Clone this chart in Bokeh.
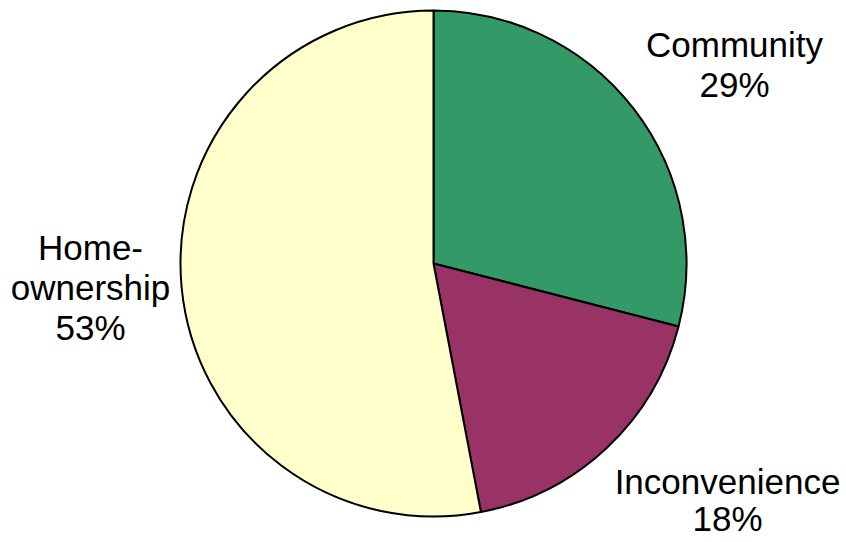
import math
from bokeh.plotting import figure
from bokeh.models import Range1d, ColumnDataSource
from bokeh.core.properties import value
from bokeh.embed import file_html
from bokeh.resources import INLINE

# ---- data ----
categories = ["Community", "Inconvenience", "Home-ownership"]
label_lines = [["Community", "29%"], ["Inconvenience", "18%"], ["Home-", "ownership", "53%"]]
percents = [29, 18, 53]
colors = ["#339966", "#993366", "#FFFFCC"]

# ---- layout ----
W, H = 846, 542
cx, cy, r = 433, H - 263, 253
shift = 13
label_pos = [(734, H - 57 + shift), (727, H - 494 + shift), (90, H - 260 + shift)]
line_gap = 40

total = sum(percents)
starts, ends = [], []
cum = 0.0
for v in percents:
    starts.append(math.pi / 2 - 2 * math.pi * cum / total)
    cum += v
    ends.append(math.pi / 2 - 2 * math.pi * cum / total)

src = ColumnDataSource(dict(x=[cx] * len(percents), y=[cy] * len(percents),
                            start=starts, end=ends, color=colors, cat=categories))

p = figure(width=W, height=H, x_range=Range1d(0, W), y_range=Range1d(0, H),
           output_backend="svg", toolbar_location=None, min_border=0)
p.axis.visible = False
p.xgrid.visible = False
p.ygrid.visible = False
p.outline_line_color = None
p.background_fill_color = "white"

p.wedge(x="x", y="y", radius=r, start_angle="start", end_angle="end",
        direction="clock", fill_color="color", line_color="black",
        line_width=2, source=src)

tx, ty, tt = [], [], []
for (lx, ly), lines in zip(label_pos, label_lines):
    for i, s in enumerate(lines):
        tx.append(lx)
        ty.append(ly - i * (line_gap - (3 if lx == 727 else 0)))
        tt.append(s)

p.text(x=tx, y=ty, text=tt, text_align="center", text_baseline="alphabetic",
       text_font=value("Liberation Sans"), text_font_size="35px", text_color="black")

open("out.html", "w").write(file_html(p, INLINE))
